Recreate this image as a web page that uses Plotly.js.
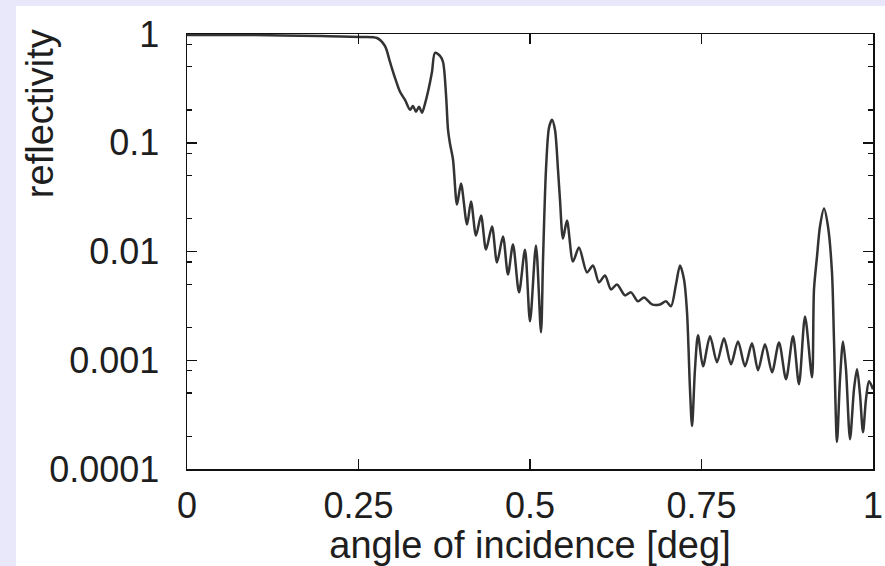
<!DOCTYPE html>
<html>
<head>
<meta charset="utf-8">
<script src="https://cdn.plot.ly/plotly-3.0.1.min.js"></script>
<style>html,body{margin:0;padding:0;background:#ffffff;overflow:hidden;}#chart{width:885px;height:566px;}</style>
</head>
<body>
<div id="chart"></div>
<script>
// angle of incidence [deg]
const angle = [0, 0.0918, 0.1939, 0.2522, 0.277, 0.2886, 0.2959, 0.3032, 0.3105, 0.3178,
  0.3251, 0.3294, 0.3338, 0.3382, 0.3426, 0.3469, 0.3513, 0.3571, 0.3615, 0.3688,
  0.3732, 0.3776, 0.3805, 0.3834, 0.3878, 0.3936, 0.3994, 0.4082, 0.414, 0.4213,
  0.4286, 0.4359, 0.4446, 0.4519, 0.4606, 0.4679, 0.4752, 0.484, 0.4927, 0.5,
  0.5087, 0.516, 0.519, 0.5233, 0.5277, 0.5321, 0.5364, 0.5408, 0.5437, 0.5481,
  0.5539, 0.5627, 0.5714, 0.5831, 0.5918, 0.6006, 0.6093, 0.6181, 0.6268, 0.6385,
  0.6472, 0.6574, 0.6662, 0.6778, 0.6895, 0.6983, 0.7055, 0.7128, 0.7187, 0.7245,
  0.7289, 0.7332, 0.7362, 0.7405, 0.7449, 0.7522, 0.7624, 0.7726, 0.7828, 0.793,
  0.8032, 0.8134, 0.8236, 0.8324, 0.8426, 0.8528, 0.863, 0.8732, 0.8834, 0.8921,
  0.9009, 0.9111, 0.914, 0.9184, 0.9227, 0.9286, 0.9344, 0.9402, 0.9431, 0.9475,
  0.9519, 0.9563, 0.9606, 0.9665, 0.9723, 0.9767, 0.981, 0.9854, 0.9898, 0.9942, 1.0];
// reflectivity
const reflectivity = [0.979, 0.979, 0.958, 0.939, 0.919, 0.776, 0.553, 0.395, 0.294, 0.248,
  0.201, 0.218, 0.193, 0.214, 0.189, 0.228, 0.294, 0.448, 0.669, 0.628,
  0.553, 0.276, 0.132, 0.0979, 0.0698, 0.027, 0.0421, 0.0177, 0.0288, 0.014,
  0.0214, 0.01043, 0.01696, 0.00793, 0.01373, 0.00615, 0.01159, 0.00421, 0.0104, 0.00228,
  0.01135, 0.00181, 0.00845, 0.0565, 0.1373, 0.1626, 0.1316, 0.0565, 0.03, 0.01316,
  0.01925, 0.0081, 0.01088, 0.00642, 0.00744, 0.0052, 0.00602, 0.00448, 0.00498, 0.00395,
  0.00421, 0.00348, 0.00378, 0.00326, 0.00326, 0.00348, 0.00313, 0.00498, 0.00744, 0.00553,
  0.00276, 0.000542, 0.000248, 0.000827, 0.0017, 0.000881, 0.00166, 0.000959, 0.00159, 0.000919,
  0.00149, 0.000881, 0.00143, 0.00081, 0.0014, 0.000776, 0.00146, 0.00067, 0.00166, 0.000602,
  0.00253, 0.000698, 0.00448, 0.009, 0.01696, 0.0248, 0.01696, 0.00642, 0.00156, 0.000177,
  0.00067, 0.00149, 0.000827, 0.000188, 0.000542, 0.000827, 0.000488, 0.000218, 0.000439, 0.000642, 0.000542];

const xTicks = [0, 0.25, 0.5, 0.75, 1];
const xTickText = ['0', '0.25', '0.5', '0.75', '1'];
const yTicks = [0.0001, 0.001, 0.01, 0.1, 1];
const yTickText = ['0.0001', '0.001', '0.01', '0.1', '1'];
const yMinorTicks = [0.0002, 0.0005, 0.0008, 0.002, 0.005, 0.008, 0.02, 0.05, 0.08, 0.2, 0.5, 0.8];

const family = '"Liberation Sans", Arial, sans-serif';
const tickFont = {family: family, size: 36, color: '#1e1e1e'};
const titleFont = {family: family, size: 38, color: '#1e1e1e'};

const trace = {
  x: angle, y: reflectivity, type: 'scatter', mode: 'lines',
  line: {color: '#333333', width: 2.5, shape: 'spline', smoothing: 0.8},
  hoverinfo: 'skip', showlegend: false
};

const lavender = '#e8e8fa';
const layout = {
  width: 885, height: 566,
  margin: {l: 187, r: 12, t: 34, b: 97},
  paper_bgcolor: '#ffffff', plot_bgcolor: '#ffffff',
  font: tickFont,
  showlegend: false,
  shapes: [
    {type: 'rect', xref: 'paper', yref: 'paper', layer: 'below',
     x0: -0.3, x1: -0.2493, y0: -0.3, y1: 1.2, fillcolor: lavender, line: {width: 0}},
    {type: 'rect', xref: 'paper', yref: 'paper', layer: 'below',
     x0: -0.3, x1: 1.1, y0: 1.0644, y1: 1.2, fillcolor: lavender, line: {width: 0}}
  ],
  xaxis: {
    range: [0, 1], tickmode: 'array', tickvals: xTicks, ticktext: xTickText,
    ticks: 'inside', ticklen: 10, tickwidth: 1.5, tickcolor: '#111',
    showline: true, linecolor: '#111', linewidth: 1.5, mirror: 'ticks',
    showgrid: false, zeroline: false, ticklabelstandoff: 4,
    tickfont: tickFont,
    title: {text: 'angle of incidence [deg]', font: titleFont, standoff: 2}
  },
  yaxis: {
    type: 'log', range: [-4, 0], tickmode: 'array', tickvals: yTicks, ticktext: yTickText,
    ticks: 'inside', ticklen: 10, tickwidth: 1.5, tickcolor: '#111',
    minor: {tickmode: 'array', tickvals: yMinorTicks, ticks: 'inside', ticklen: 5, tickwidth: 1.2, tickcolor: '#111'},
    showline: true, linecolor: '#111', linewidth: 1.5, mirror: 'ticks',
    showgrid: false, zeroline: false, ticklabelstandoff: 19,
    tickfont: tickFont
  },
  annotations: [{
    text: 'reflectivity', xref: 'paper', yref: 'paper',
    x: -0.2143, y: 0.818, xanchor: 'center', yanchor: 'middle',
    textangle: -90, showarrow: false, font: titleFont
  }]
};

Plotly.newPlot('chart', [trace], layout, {displayModeBar: false, staticPlot: true});
</script>
</body>
</html>
